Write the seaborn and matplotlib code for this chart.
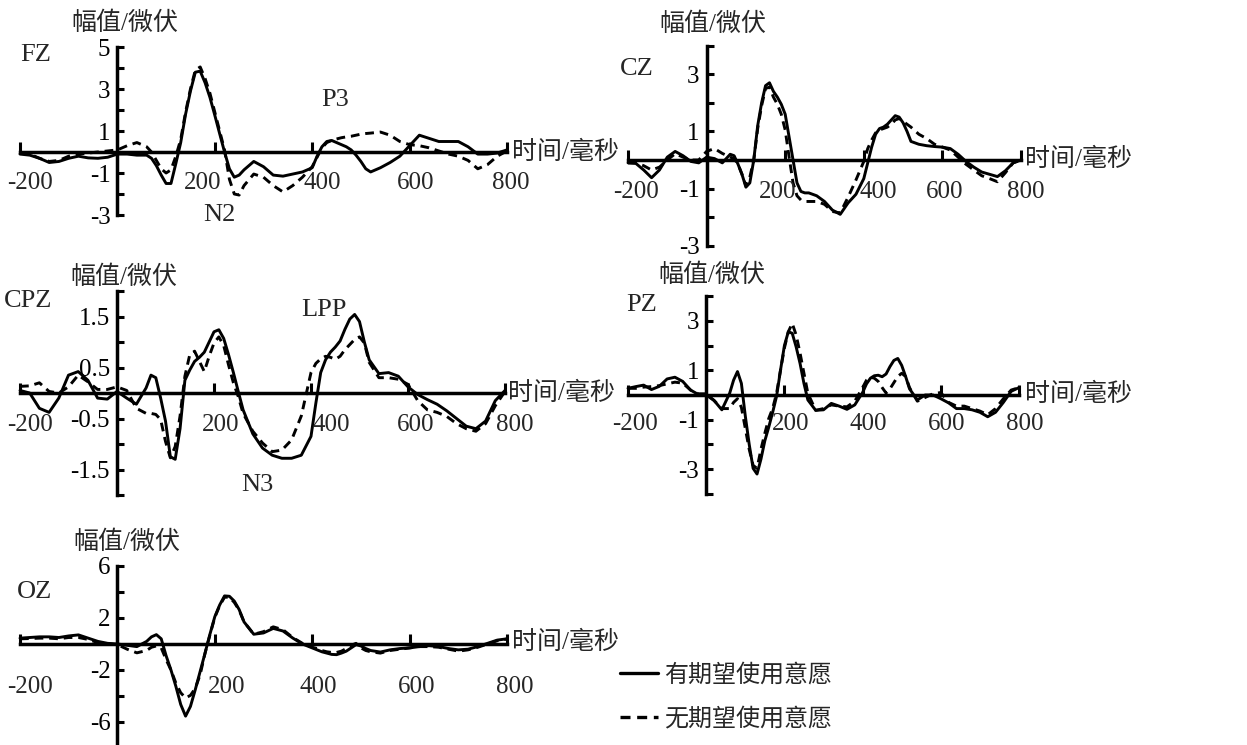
import numpy as np
import pandas as pd
import matplotlib
matplotlib.use("Agg")
import matplotlib.pyplot as plt
import matplotlib.transforms as mtransforms
from matplotlib.lines import Line2D
import seaborn as sns

W, H = 1247, 745

# sampling times (ms)
time_ms = [-200, -180, -160, -140, -120, -100, -80, -60, -40, -20, 0, 20, 40,
           60, 70, 80, 90, 100, 110, 120, 130, 140, 150, 160, 170, 180, 190, 200,
           210, 220, 230, 240, 250, 260,
           280, 300, 320, 340, 360, 380,
           400, 410, 420, 430, 440, 450, 460, 470, 480, 490, 500, 510, 520,
           540, 560, 580, 600, 620, 640, 660, 680, 700, 720, 740, 760, 780, 800]

# amplitude (uV) - "yes" = 有期望使用意愿 (solid), "no" = 无期望使用意愿 (dashed)
fz_yes = [-0.1, -0.15, -0.3, -0.5, -0.45, -0.3, -0.2, -0.28, -0.3, -0.25, -0.1, -0.1, -0.15,
          -0.15, -0.3, -0.65, -1.1, -1.5, -1.5, -0.55, 0.45, 1.8, 2.9, 3.8, 3.85, 3.3, 2.6, 1.75,
          0.87, 0.0, -0.8, -1.2, -1.1, -0.85,
          -0.45, -0.7, -1.1, -1.15, -1.05, -0.95,
          -0.75, -0.2, 0.25, 0.5, 0.55, 0.45, 0.35, 0.25, 0.1, -0.15, -0.45, -0.8, -0.95,
          -0.75, -0.5, -0.2, 0.3, 0.8, 0.65, 0.5, 0.5, 0.5, 0.25, -0.1, -0.1, -0.05, 0.1]
fz_no = [0.0, -0.1, -0.3, -0.45, -0.4, -0.2, -0.1, -0.05, 0.0, 0.05, 0.1, 0.3, 0.45,
         0.25, 0.0, -0.4, -0.8, -1.0, -0.85, -0.2, 0.6, 1.9, 3.0, 3.9, 4.05, 3.5, 2.8, 1.9,
         1.0, 0.1, -1.3, -2.0, -2.05, -1.6,
         -1.05, -1.2, -1.6, -1.9, -1.6, -1.2,
         -0.7, -0.25, 0.2, 0.45, 0.55, 0.62, 0.68, 0.72, 0.75, 0.8, 0.85, 0.88, 0.9,
         0.95, 0.8, 0.5, 0.35, 0.3, 0.2, 0.05, -0.1, -0.2, -0.4, -0.8, -0.6, -0.2, 0.05]

cz_yes = [-0.1, -0.12, -0.35, -0.62, -0.35, 0.1, 0.3, 0.15, -0.05, -0.1, 0.1, 0.05, -0.1,
          0.2, 0.15, -0.15, -0.5, -0.95, -0.8, 0.0, 1.2, 2.0, 2.6, 2.7, 2.4, 2.2, 1.95, 1.6,
          0.8, 0.0, -0.8, -1.1, -1.15, -1.15,
          -1.25, -1.45, -1.75, -1.9, -1.5, -1.2,
          -0.65, -0.1, 0.45, 0.9, 1.1, 1.15, 1.25, 1.4, 1.55, 1.5, 1.3, 1.0, 0.65,
          0.55, 0.5, 0.47, 0.45, 0.4, 0.2, -0.05, -0.25, -0.42, -0.5, -0.58, -0.38, -0.1, 0.0]
cz_no = [-0.1, -0.1, -0.2, -0.35, -0.25, 0.0, 0.22, 0.1, 0.0, 0.0, 0.3, 0.4, 0.23,
         0.1, 0.05, -0.15, -0.5, -0.9, -0.6, 0.0, 1.1, 1.9, 2.5, 2.55, 2.2, 1.95, 1.6, 1.05,
         0.1, -0.8, -1.25, -1.4, -1.45, -1.45,
         -1.45, -1.55, -1.8, -1.85, -1.3, -0.7,
         -0.05, 0.4, 0.7, 0.95, 1.05, 1.1, 1.15, 1.25, 1.4, 1.45, 1.35, 1.25, 1.15,
         0.9, 0.75, 0.55, 0.45, 0.35, 0.1, -0.15, -0.35, -0.55, -0.65, -0.76, -0.45, -0.1, 0.0]

cpz_yes = [0.05, 0.0, -0.3, -0.38, -0.1, 0.35, 0.42, 0.25, -0.1, -0.12, 0.03, -0.1, -0.22,
           0.1, 0.35, 0.3, -0.1, -0.55, -1.25, -1.3, -0.7, 0.25, 0.45, 0.62, 0.7, 0.8, 1.0, 1.2,
           1.24, 1.07, 0.75, 0.4, 0.03, -0.33,
           -0.8, -1.08, -1.22, -1.28, -1.28, -1.22,
           -0.85, -0.2, 0.4, 0.65, 0.8, 0.9, 1.02, 1.25, 1.45, 1.54, 1.4, 1.0, 0.65,
           0.38, 0.4, 0.33, 0.12, -0.03, -0.13, -0.22, -0.35, -0.5, -0.65, -0.7, -0.55, -0.15, 0.05]
cpz_no = [0.13, 0.14, 0.2, 0.03, 0.0, 0.12, 0.35, 0.22, 0.07, 0.07, 0.12, 0.05, -0.3,
          -0.4, -0.4, -0.42, -0.52, -0.95, -1.27, -1.05, -0.45, 0.33, 0.75, 0.82, 0.62, 0.42, 0.72, 0.98,
          1.1, 0.93, 0.55, 0.2, -0.07, -0.4,
          -0.75, -0.98, -1.15, -1.12, -0.92, -0.45,
          0.4, 0.58, 0.67, 0.72, 0.7, 0.66, 0.72, 0.85, 0.95, 1.05, 1.1, 0.98, 0.6,
          0.3, 0.3, 0.27, 0.17, -0.15, -0.33, -0.38, -0.46, -0.6, -0.7, -0.75, -0.6, -0.25, 0.03]

pz_yes = [0.27, 0.34, 0.4, 0.22, 0.35, 0.65, 0.72, 0.55, 0.2, 0.02, 0.0, -0.22, -0.6,
          0.07, 0.6, 0.95, 0.47, -0.85, -2.0, -2.97, -3.2, -2.6, -1.85, -1.3, -0.7, -0.05, 1.0, 2.0,
          2.56, 2.5, 1.95, 1.28, 0.47, -0.2,
          -0.62, -0.6, -0.34, -0.45, -0.58, -0.4,
          0.1, 0.45, 0.68, 0.78, 0.8, 0.74, 0.85, 1.15, 1.4, 1.48, 1.2, 0.75, 0.25,
          -0.2, 0.0, 0.0, -0.15, -0.32, -0.55, -0.55, -0.6, -0.7, -0.88, -0.7, -0.3, 0.15, 0.3]
pz_no = [0.27, 0.27, 0.32, 0.34, 0.38, 0.45, 0.52, 0.48, 0.2, 0.05, 0.05, -0.22, -0.55,
         -0.55, -0.3, -0.15, -0.5, -1.35, -2.2, -2.85, -2.97, -2.2, -1.55, -0.95, -0.54, 0.07, 1.0, 1.9,
         2.56, 2.9, 2.43, 1.7, 0.88, 0.07,
         -0.62, -0.55, -0.4, -0.45, -0.48, -0.25,
         0.3, 0.6, 0.72, 0.68, 0.55, 0.3, 0.08, 0.25, 0.5, 0.75, 0.88, 0.75, 0.3,
         -0.25, -0.1, 0.05, 0.1, -0.3, -0.45, -0.45, -0.55, -0.65, -0.8, -0.55, -0.15, 0.2, 0.3]

oz_yes = [0.45, 0.5, 0.55, 0.55, 0.5, 0.62, 0.7, 0.45, 0.2, 0.05, 0.0, -0.1, -0.2,
          0.2, 0.55, 0.72, 0.4, -0.9, -2.0, -3.25, -4.65, -5.55, -4.8, -3.5, -2.1, -0.7, 0.75, 2.1,
          3.0, 3.7, 3.67, 3.3, 2.65, 1.7,
          0.75, 0.85, 1.2, 1.0, 0.46, 0.0,
          -0.3, -0.45, -0.6, -0.7, -0.8, -0.82, -0.7, -0.55, -0.3, -0.05, -0.15, -0.35, -0.5,
          -0.62, -0.45, -0.35, -0.3, -0.2, -0.13, -0.2, -0.35, -0.45, -0.4, -0.2, 0.05, 0.3, 0.4]
oz_no = [0.4, 0.42, 0.45, 0.45, 0.4, 0.5, 0.5, 0.35, 0.1, 0.0, -0.05, -0.4, -0.68,
         -0.5, -0.25, -0.15, -0.3, -1.2, -2.0, -3.0, -3.75, -4.15, -3.95, -3.4, -2.35, -0.7, 0.7, 2.05,
         2.95, 3.6, 3.6, 3.2, 2.6, 1.7,
         0.75, 0.95, 1.32, 1.1, 0.5, 0.05,
         -0.25, -0.35, -0.5, -0.6, -0.65, -0.65, -0.55, -0.35, -0.1, 0.05, -0.3, -0.5, -0.6,
         -0.7, -0.5, -0.4, -0.3, -0.2, -0.2, -0.25, -0.4, -0.55, -0.45, -0.25, 0.0, 0.25, 0.38]

cond_yes = "有期望使用意愿"
cond_no = "无期望使用意愿"
x_ticks = [-200, 200, 400, 600, 800]
x_tick_labels = ["-200", "200", "400", "600", "800"]

# long-form table for seaborn
frames = []
for site, yes, no in [("FZ", fz_yes, fz_no), ("CZ", cz_yes, cz_no), ("CPZ", cpz_yes, cpz_no),
                      ("PZ", pz_yes, pz_no), ("OZ", oz_yes, oz_no)]:
    frames.append(pd.DataFrame({"site": site, "time": time_ms, "amp": yes, "cond": cond_yes}))
    frames.append(pd.DataFrame({"site": site, "time": time_ms, "amp": no, "cond": cond_no}))
df = pd.concat(frames, ignore_index=True)

sns.set_style("white")
plt.rcParams["font.family"] = ["Liberation Serif", "Noto Sans CJK SC"]
plt.rcParams["axes.unicode_minus"] = False

fig = plt.figure(figsize=(W / 100, H / 100), dpi=100)


def ftext(x, y, s, **kw):
    # place text using pixel coordinates measured from the top-left
    fig.text(x / W, 1 - y / H, s, **kw)


# layout: x-pixel of -200 and 800, pixel row of zero line, pixels per uV
panels = [
    dict(site="FZ", box=(20, 507, 152, 21.0), ylim=(-3, 5),
         yticks=[-3, -2, -1, 1, 2, 3, 4, 5], ylabels=["-3", "", "-1", "1", "", "3", "", "5"],
         xdx=[10, -12, 10, 6, 4], xdy=31),
    dict(site="CZ", box=(628, 1021, 160, 28.6), ylim=(-3, 4),
         yticks=[-3, -2, -1, 1, 2, 3, 4], ylabels=["-3", "", "-1", "1", "", "3", ""],
         xdx=[8, -8, 14, 2, 5], xdy=32),
    dict(site="CPZ", box=(20, 505, 393, 51.0), ylim=(-2, 2),
         yticks=[-2, -1.5, -1, -0.5, 0.5, 1, 1.5, 2],
         ylabels=["", "-1.5", "", "-0.5", "0.5", "", "1.5", ""],
         xdx=[10, 7, 20, 8, 10], xdy=32),
    dict(site="PZ", box=(628, 1019, 395, 24.7), ylim=(-4, 4),
         yticks=[-4, -3, -2, -1, 1, 2, 3, 4], ylabels=["", "-3", "", "-1", "1", "", "3", ""],
         xdx=[7, 6, 6, 6, 6], xdy=29),
    dict(site="OZ", box=(20, 507, 644, 13.0), ylim=(-8, 6),
         yticks=[-8, -6, -4, -2, 2, 4, 6], ylabels=["", "-6", "", "-2", "2", "", "6"],
         xdx=[10, 12, 6, 7, 8], xdy=43),
]

for p in panels:
    x0, x1, zero, ppu = p["box"]
    ylo, yhi = p["ylim"]
    ax = fig.add_axes([x0 / W, 1 - (zero - ylo * ppu) / H, (x1 - x0) / W, (yhi - ylo) * ppu / H])
    ax.patch.set_alpha(0)
    sub = df[df["site"] == p["site"]]
    sns.lineplot(data=sub, x="time", y="amp", style="cond", style_order=[cond_yes, cond_no],
                 dashes={cond_yes: "", cond_no: (3, 2)}, color="black", linewidth=2.1,
                 errorbar=None, legend=False, ax=ax)
    for ln in ax.lines:
        ln.set_clip_on(False)
    ax.set_xlim(-200, 800)
    ax.set_ylim(ylo, yhi)
    ax.set_xlabel("")
    ax.set_ylabel("")
    for side in ["top", "right"]:
        ax.spines[side].set_visible(False)
    for side in ["left", "bottom"]:
        ax.spines[side].set_position(("data", 0))
        ax.spines[side].set_linewidth(2.5)
        ax.spines[side].set_color("black")
    ax.set_yticks(p["yticks"], labels=p["ylabels"])
    ax.set_xticks(x_ticks, labels=[""] * len(x_ticks))
    ax.tick_params(axis="y", left=True, direction="in", length=5, width=2.2, pad=5,
                   labelsize=18, colors="black")
    ax.tick_params(axis="x", bottom=True, direction="in", length=7, width=2.2, colors="black")
    for t, lab, dx in zip(x_ticks, x_tick_labels, p["xdx"]):
        tr = mtransforms.offset_copy(ax.transData, fig=fig, x=dx, y=-p["xdy"], units="dots")
        ax.text(t, 0, lab, transform=tr, ha="center", va="center", fontsize=18)

# axis titles, site names
for x, y in [(125, 23), (713, 24), (124, 277), (712, 275), (127, 542)]:
    ftext(x, y, "幅值/微伏", ha="center", va="center", fontsize=18)
for x, y in [(512, 152), (1025, 159), (508, 393), (1025, 394), (512, 642)]:
    ftext(x, y, "时间/毫秒", ha="left", va="center", fontsize=18)
for x, y, s in [(36, 55, "FZ"), (637, 69, "CZ"), (28, 301, "CPZ"), (642, 305, "PZ"), (35, 592, "OZ")]:
    ftext(x, y, s, ha="center", va="center", fontsize=19)

# ERP component names
for x, y, s in [(219, 215, "N2"), (335, 100, "P3"), (324, 310, "LPP"), (257, 485, "N3")]:
    ftext(x, y, s, ha="center", va="center", fontsize=19)

handles = [Line2D([], [], color="black", lw=2.4, ls="-"),
           Line2D([], [], color="black", lw=2.4, ls=(0, (3, 2)))]
fig.legend(handles, [cond_yes, cond_no], loc="upper left", bbox_to_anchor=(620 / W, 1 - 664 / H),
           frameon=False, fontsize=17.3, handlelength=1.6, handletextpad=0.25,
           labelspacing=0.85, borderpad=0, borderaxespad=0)

fig.savefig("out.png", dpi=100)
